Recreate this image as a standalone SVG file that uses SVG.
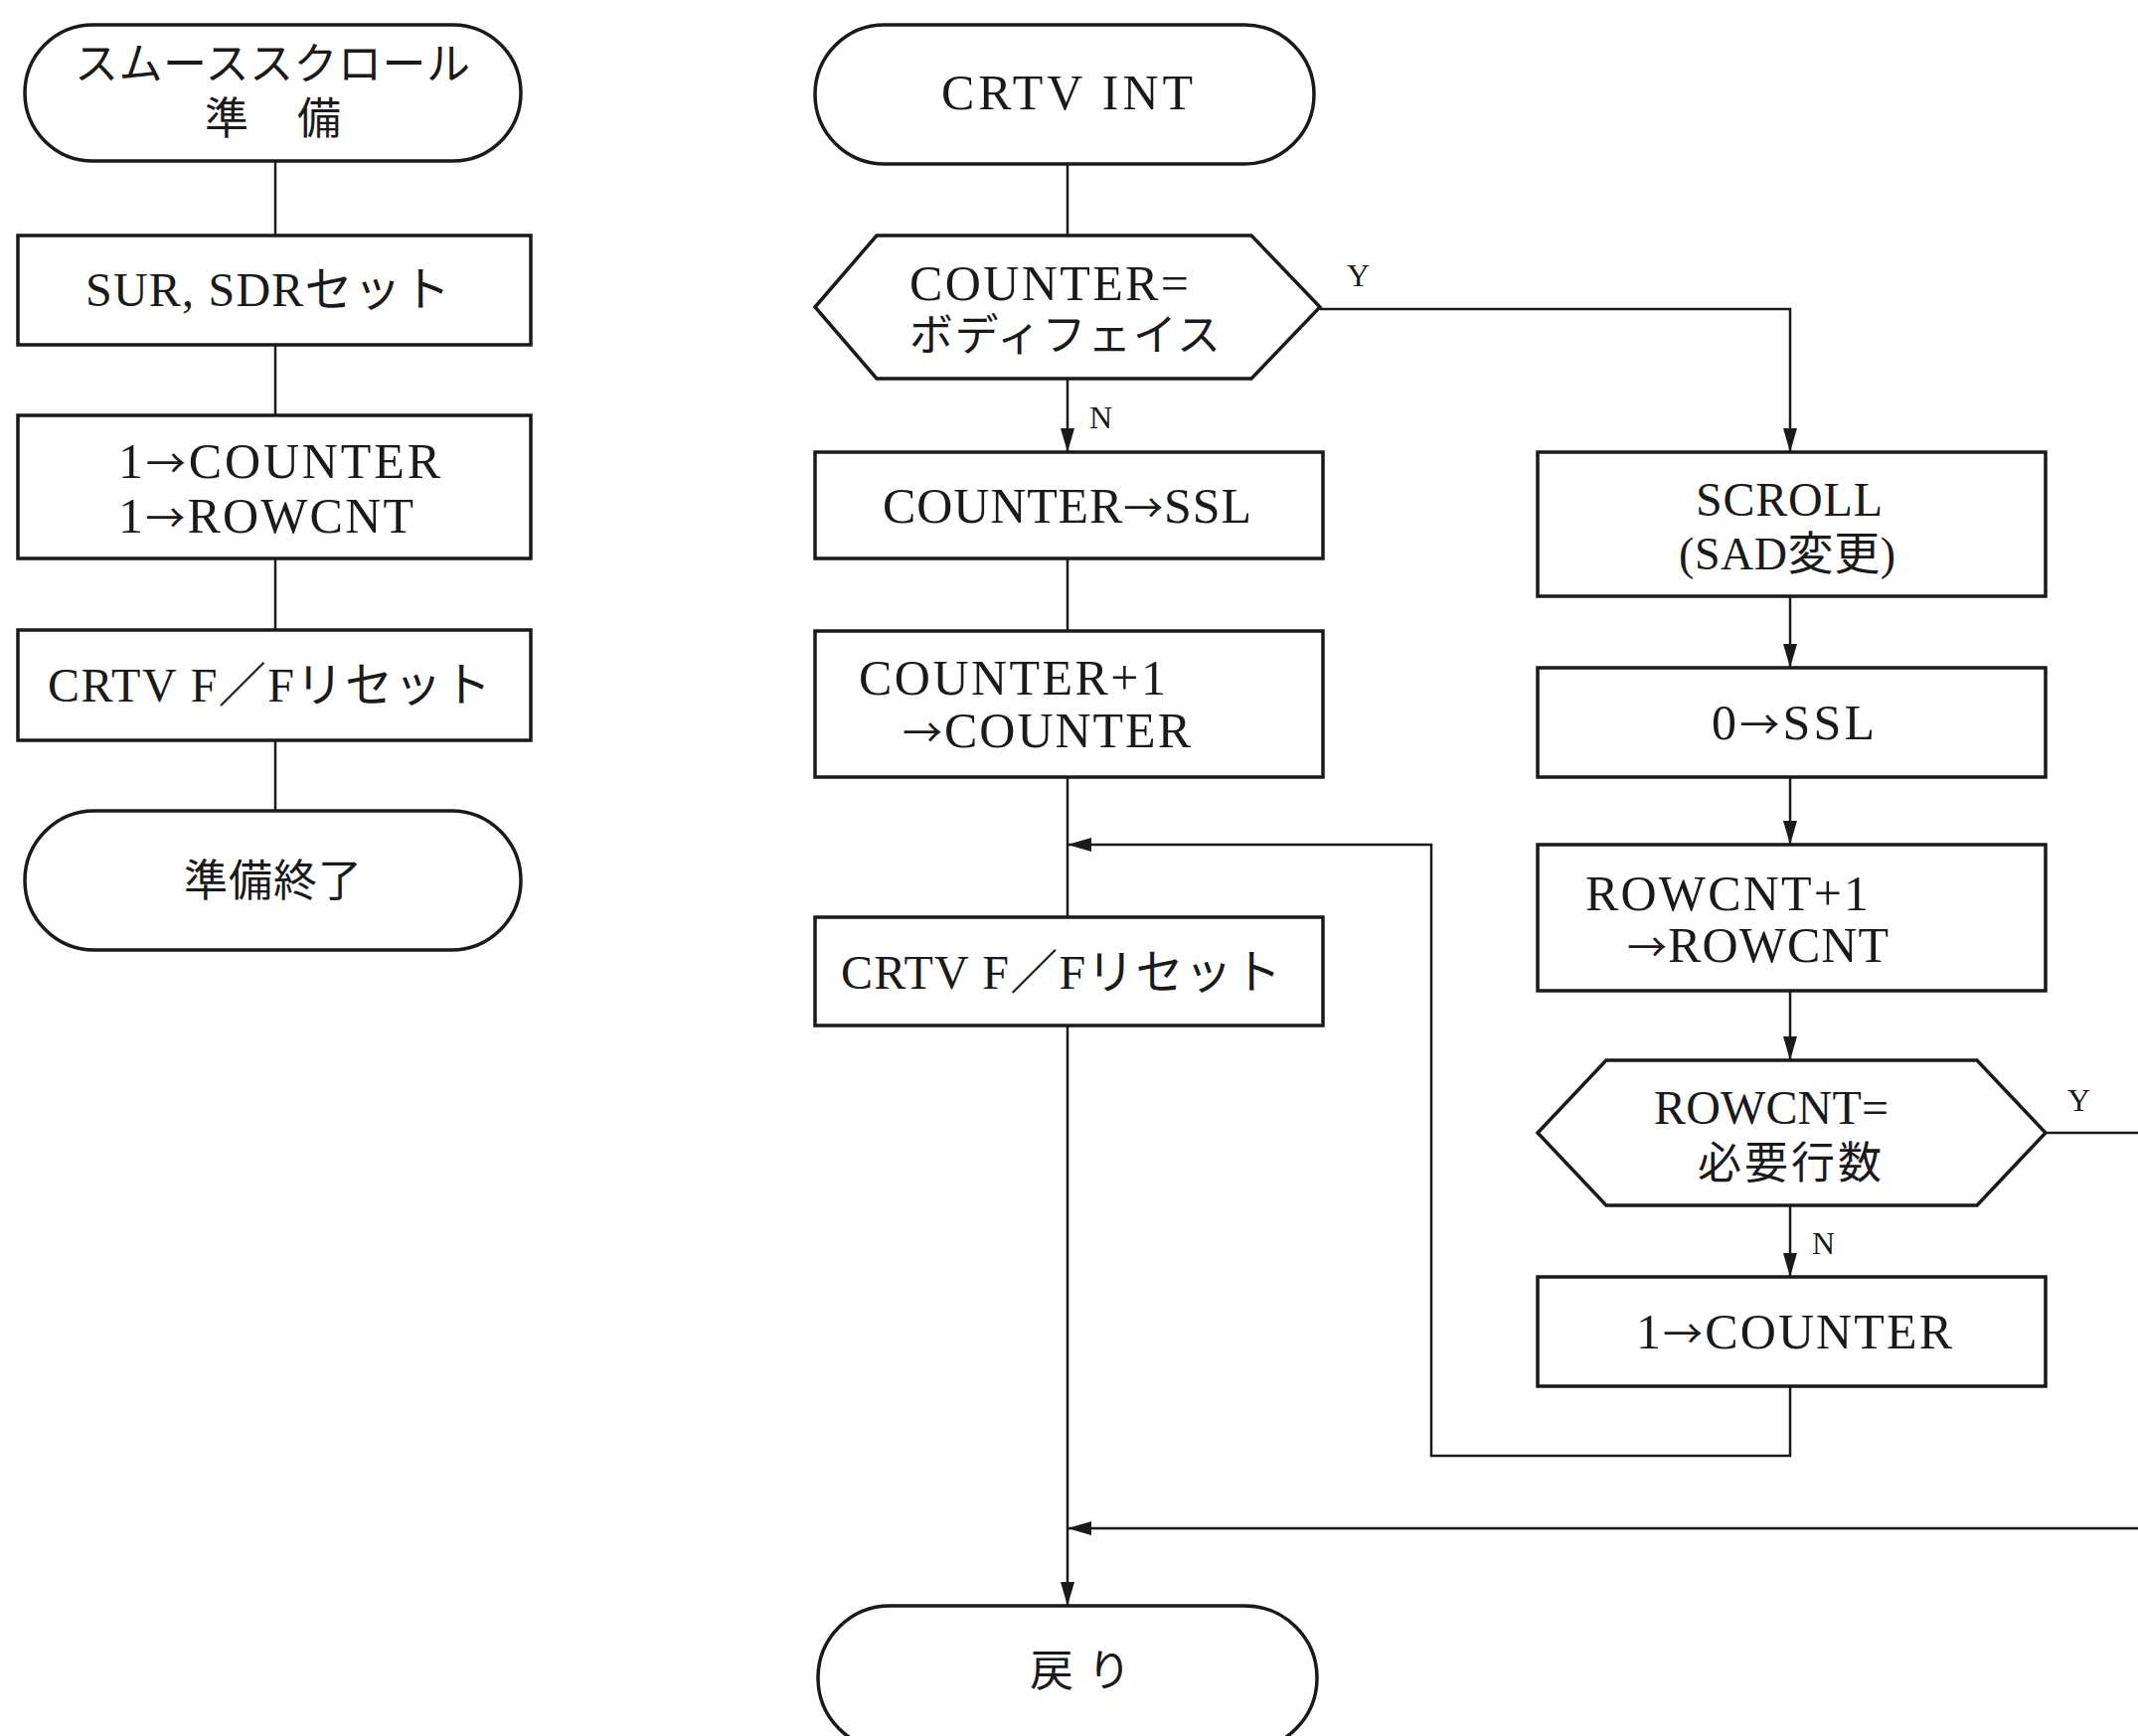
<svg xmlns="http://www.w3.org/2000/svg" width="2151" height="1747" viewBox="0 0 2151 1747">
<defs>
<style>
.n{fill:#fff;stroke:#1a1a1a;stroke-width:3.5}
.c{fill:none;stroke:#1a1a1a;stroke-width:2.5}
text{font-family:"Liberation Serif","Noto Sans CJK JP",serif;font-size:50px;fill:#1a1a1a}
.j{font-size:44px}
.m48{font-size:48px}
.m46{font-size:46px}
.s{font-size:32px}
.ar{font-family:"Noto Sans CJK JP",sans-serif;font-size:40px}
</style>
<marker id="a" markerUnits="userSpaceOnUse" markerWidth="26" markerHeight="16" refX="24" refY="7" orient="auto">
<path d="M0,0 L24,7 L0,14 z" fill="#1a1a1a"/>
</marker>
</defs>
<rect width="2151" height="1747" fill="#fff"/>
<g id="connectors">
<line class="c" x1="277" y1="162" x2="277" y2="237"/>
<line class="c" x1="277" y1="347" x2="277" y2="418"/>
<line class="c" x1="277" y1="562" x2="277" y2="634"/>
<line class="c" x1="277" y1="745" x2="277" y2="816"/>
<line class="c" x1="1074" y1="165" x2="1074" y2="237"/>
<line class="c" x1="1074" y1="381" x2="1074" y2="455" marker-end="url(#a)"/>
<line class="c" x1="1074" y1="562" x2="1074" y2="635"/>
<line class="c" x1="1074" y1="782" x2="1074" y2="923"/>
<line class="c" x1="1074" y1="1032" x2="1074" y2="1616" marker-end="url(#a)"/>
<polyline class="c" points="1328,311 1801,311 1801,455" marker-end="url(#a)"/>
<line class="c" x1="1801" y1="600" x2="1801" y2="672" marker-end="url(#a)"/>
<line class="c" x1="1801" y1="782" x2="1801" y2="850" marker-end="url(#a)"/>
<line class="c" x1="1801" y1="997" x2="1801" y2="1067" marker-end="url(#a)"/>
<line class="c" x1="1801" y1="1213" x2="1801" y2="1285" marker-end="url(#a)"/>
<polyline class="c" points="1801,1395 1801,1465 1440,1465 1440,850 1074,850" marker-end="url(#a)"/>
<line class="c" x1="2058" y1="1140" x2="2151" y2="1140"/>
<line class="c" x1="2151" y1="1538" x2="1074" y2="1538" marker-end="url(#a)"/>
<text class="s" x="1355" y="288">Y</text>
<text class="s" x="1096" y="431">N</text>
<text class="s" x="2080" y="1118">Y</text>
<text class="s" x="1823" y="1262">N</text>
</g>
<g id="prep-start">
<rect class="n" x="25" y="25" width="499" height="137" rx="68.5"/>
<text class="j" x="75" y="80" textLength="398" lengthAdjust="spacing">スムーススクロール</text>
<text class="j" x="206" y="135" textLength="137" lengthAdjust="spacing">準　備</text>
</g>
<g id="sur-sdr">
<rect class="n" x="18" y="237" width="516" height="110"/>
<text class="m48" x="86" y="308" textLength="367" lengthAdjust="spacing">SUR, SDRセット</text>
</g>
<g id="init-counters">
<rect class="n" x="18" y="418" width="516" height="144"/>
<text x="119" y="481" textLength="324" lengthAdjust="spacing">1<tspan class="ar">→</tspan>COUNTER</text>
<text x="119" y="536" textLength="297" lengthAdjust="spacing">1<tspan class="ar">→</tspan>ROWCNT</text>
</g>
<g id="prep-ff-reset">
<rect class="n" x="18" y="634" width="516" height="111"/>
<text class="m48" x="48" y="706" textLength="446" lengthAdjust="spacing">CRTV F／Fリセット</text>
</g>
<g id="prep-end">
<rect class="n" x="25" y="816" width="499" height="140" rx="70"/>
<text class="j" x="185" y="902" textLength="179" lengthAdjust="spacing">準備終了</text>
</g>
<g id="crtv-int">
<rect class="n" x="820" y="25" width="502" height="140" rx="70"/>
<text x="947" y="110" textLength="253" lengthAdjust="spacing">CRTV INT</text>
</g>
<g id="dec-counter">
<polygon class="n" points="820,309 882,237 1259,237 1328,309 1259,381 882,381"/>
<text x="915" y="302" textLength="281" lengthAdjust="spacing">COUNTER=</text>
<text class="j" x="915" y="353" textLength="313" lengthAdjust="spacing">ボディフェイス</text>
</g>
<g id="counter-ssl">
<rect class="n" x="820" y="455" width="511" height="107"/>
<text x="888" y="526" textLength="371" lengthAdjust="spacing">COUNTER<tspan class="ar">→</tspan>SSL</text>
</g>
<g id="counter-inc">
<rect class="n" x="820" y="635" width="511" height="147"/>
<text x="864" y="699" textLength="309" lengthAdjust="spacing">COUNTER+1</text>
<text x="908" y="752" textLength="290" lengthAdjust="spacing"><tspan class="ar">→</tspan>COUNTER</text>
</g>
<g id="main-ff-reset">
<rect class="n" x="820" y="923" width="511" height="109"/>
<text class="m48" x="846" y="995" textLength="443" lengthAdjust="spacing">CRTV F／Fリセット</text>
</g>
<g id="return">
<rect class="n" x="823" y="1616" width="502" height="145" rx="72.5"/>
<text class="j" x="1036" y="1697">戻</text>
<text class="j" x="1094" y="1697">り</text>
</g>
<g id="scroll">
<rect class="n" x="1547" y="455" width="511" height="145"/>
<text class="m48" x="1706" y="519" textLength="188" lengthAdjust="spacing">SCROLL</text>
<text class="m46" x="1689" y="573" textLength="218" lengthAdjust="spacing">(SAD変更)</text>
</g>
<g id="zero-ssl">
<rect class="n" x="1547" y="672" width="511" height="110"/>
<text x="1722" y="744" textLength="164" lengthAdjust="spacing">0<tspan class="ar">→</tspan>SSL</text>
</g>
<g id="rowcnt-inc">
<rect class="n" x="1547" y="850" width="511" height="147"/>
<text x="1595" y="916" textLength="285" lengthAdjust="spacing">ROWCNT+1</text>
<text x="1637" y="968" textLength="263" lengthAdjust="spacing"><tspan class="ar">→</tspan>ROWCNT</text>
</g>
<g id="dec-rowcnt">
<polygon class="n" points="1547,1140 1616,1067 1989,1067 2058,1140 1989,1213 1616,1213"/>
<text class="m48" x="1664" y="1131" textLength="236" lengthAdjust="spacing">ROWCNT=</text>
<text class="j" x="1708" y="1186" textLength="185" lengthAdjust="spacing">必要行数</text>
</g>
<g id="reset-counter">
<rect class="n" x="1547" y="1285" width="511" height="110"/>
<text x="1646" y="1357" textLength="318" lengthAdjust="spacing">1<tspan class="ar">→</tspan>COUNTER</text>
</g>
</svg>
